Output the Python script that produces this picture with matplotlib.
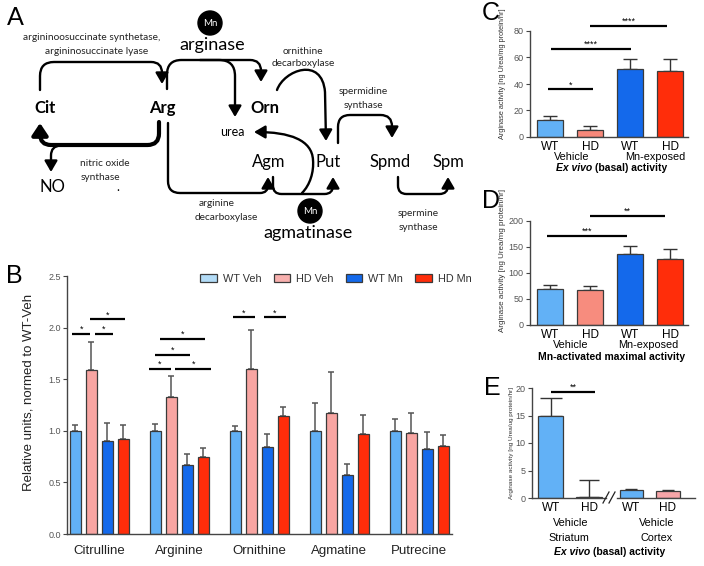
import numpy as np
import matplotlib
matplotlib.use('Agg')
import matplotlib.pyplot as plt
from matplotlib.path import Path
from matplotlib.patches import FancyArrowPatch, Circle, Patch

plt.rcParams['font.family'] = ['Liberation Sans', 'DejaVu Sans']

# ---------------- data: panel B ----------------
metabolites = ['Citrulline', 'Arginine', 'Ornithine', 'Agmatine', 'Putrecine']
groups_B = ['WT Veh', 'HD Veh', 'WT Mn', 'HD Mn']
wt_veh = [1.00, 1.00, 1.00, 1.00, 1.00]
wt_veh_err = [0.06, 0.07, 0.05, 0.27, 0.11]
hd_veh = [1.59, 1.33, 1.60, 1.17, 0.98]
hd_veh_err = [0.27, 0.20, 0.38, 0.40, 0.19]
wt_mn = [0.90, 0.67, 0.84, 0.57, 0.82]
wt_mn_err = [0.18, 0.11, 0.13, 0.11, 0.17]
hd_mn = [0.92, 0.75, 1.14, 0.97, 0.85]
hd_mn_err = [0.14, 0.08, 0.09, 0.18, 0.11]
yticks_B = [0.0, 0.5, 1.0, 1.5, 2.0, 2.5]
# significance bars B: (x start, x end, y, label)
sig_B = [(-0.341, -0.112, 1.936, '*'), (-0.058, 0.171, 1.936, '*'), (-0.112, 0.325, 2.08, '*'),
         (0.617, 0.900, 1.60, '*'), (0.946, 1.400, 1.60, '*'), (0.700, 1.129, 1.736, '*'),
         (0.754, 1.325, 1.89, '*'),
         (1.667, 1.942, 2.10, '*'), (2.054, 2.338, 2.10, '*')]

# ---------------- data: panel C ----------------
labels_CD = ['WT', 'HD', 'WT', 'HD']
c_vals = [13.0, 5.5, 51.5, 50.0]
c_err = [2.5, 2.8, 7.5, 8.5]
yticks_C = [0, 20, 40, 60, 80]
sig_C = [(-0.05, 1.075, 36, '*'), (0.008, 2.03, 66.7, '****'), (0.99, 2.925, 84, '****')]

# ---------------- data: panel D ----------------
d_vals = [69.5, 67.5, 137.5, 127.5]
d_err = [7.5, 7.5, 15.0, 19.5]
yticks_D = [0, 50, 100, 150, 200]
sig_D = [(-0.09, 1.91, 171.8, '***'), (0.99, 2.88, 209.6, '**')]

# ---------------- data: panel E ----------------
labels_E = ['WT', 'HD', 'WT', 'HD']
e_vals = [14.9, 0.25, 1.4, 1.2]
e_err = [3.3, 2.95, 0.3, 0.3]
e_pos = [0, 1, 2.08, 3.03]
yticks_E = [0, 5, 10, 15, 20]
sig_E = [(0.02, 1.15, 19.3, '**')]

# colours
C_WTV = '#62B1F6'
C_HDV = '#F8A5A2'
C_WTM = '#1469EB'
C_HDM = '#FF2D0A'
EDGE = '#3a3a3a'

W, H = 704, 566
fig = plt.figure(figsize=(W / 100, H / 100), dpi=100)


def ax_px(x0, y0, x1, y1):
    return fig.add_axes([x0 / W, 1 - y1 / H, (x1 - x0) / W, (y1 - y0) / H])


def style_ax(ax, yticks, ylim, tick_fs=6.5):
    for s in ['top', 'right']:
        ax.spines[s].set_visible(False)
    for s in ['left', 'bottom']:
        ax.spines[s].set_color('#444444')
        ax.spines[s].set_linewidth(1.0)
    ax.set_ylim(*ylim)
    ax.set_yticks(yticks)
    ax.tick_params(axis='y', length=3, width=0.8, color='#444444', labelsize=tick_fs,
                   labelcolor='#555555', pad=1.5)
    ax.tick_params(axis='x', length=0)
    ax.set_facecolor('none')


def sig(ax, items, fs=7):
    for x0, x1, y, lab in items:
        ax.plot([x0, x1], [y, y], color='k', lw=1.6, clip_on=False, solid_capstyle='butt')
        ax.text((x0 + x1) / 2, y, lab, ha='center', va='bottom', fontsize=fs, clip_on=False)


# ---------------- panel B ----------------
axB = ax_px(67, 276, 452, 534)
xg = np.arange(len(metabolites))
offs = [-0.3, -0.1, 0.1, 0.3]
series = [(wt_veh, wt_veh_err, C_WTV), (hd_veh, hd_veh_err, C_HDV),
          (wt_mn, wt_mn_err, C_WTM), (hd_mn, hd_mn_err, C_HDM)]
for (v, e, c), o in zip(series, offs):
    axB.bar(xg + o, v, width=0.133, color=c, edgecolor=EDGE, linewidth=0.9, zorder=2)
    axB.errorbar(xg + o, v, yerr=[np.zeros(len(v)), e], fmt='none', ecolor='#555555',
                 elinewidth=1.1, capsize=2.5, capthick=1.1, zorder=1)
style_ax(axB, yticks_B, (0, 2.5), tick_fs=6.5)
axB.set_yticklabels([f'{t:.1f}' for t in yticks_B])
axB.set_xlim(-0.404, 4.408)
axB.set_xticks(xg)
axB.set_xticklabels(metabolites, fontsize=9.5, color='#222222')
axB.tick_params(axis='x', pad=8)
axB.set_ylabel('Relative units, normed to WT-Veh', fontsize=9.5, color='#222222')
axB.yaxis.set_label_coords((35 - 67) / 385, 0.55)
sig(axB, sig_B, fs=6.5)
leg_cols = ['#B3DCF7', '#F8B0AE', C_WTM, C_HDM]
handles = [Patch(facecolor=c, edgecolor=EDGE, linewidth=0.9) for c in leg_cols]
fig.legend(handles, groups_B, loc='center', bbox_to_anchor=(336 / W, 1 - 279 / H), ncol=4,
           frameon=False, fontsize=7.8, handlelength=1.5, handleheight=0.8,
           columnspacing=1.1, handletextpad=0.6, labelcolor='#333333')

# ---------------- panel C ----------------
axC = ax_px(530, 31, 688, 137)
xc = np.arange(4)
cols_C = [C_WTV, '#F7887A', C_WTM, C_HDM]
axC.bar(xc, c_vals, width=0.65, color=cols_C, edgecolor=EDGE, linewidth=0.9, zorder=2)
axC.errorbar(xc, c_vals, yerr=[np.zeros(4), c_err], fmt='none', ecolor='#333333',
             elinewidth=1.0, capsize=5, capthick=1.0, zorder=1)
style_ax(axC, yticks_C, (0, 80))
axC.set_xlim(-0.508, 3.45)
axC.set_xticks(xc)
axC.set_xticklabels(labels_CD, fontsize=8.5)
axC.tick_params(axis='x', pad=3)
sig(axC, sig_C, fs=6.5)

# ---------------- panel D ----------------
axD = ax_px(530, 221, 688, 325)
cols_D = [C_WTV, '#F78C7E', C_WTM, C_HDM]
axD.bar(xc, d_vals, width=0.65, color=cols_D, edgecolor=EDGE, linewidth=0.9, zorder=2)
axD.errorbar(xc, d_vals, yerr=[np.zeros(4), d_err], fmt='none', ecolor='#333333',
             elinewidth=1.0, capsize=5, capthick=1.0, zorder=1)
style_ax(axD, yticks_D, (0, 200))
axD.set_xlim(-0.508, 3.45)
axD.set_xticks(xc)
axD.set_xticklabels(labels_CD, fontsize=8.5)
axD.tick_params(axis='x', pad=3)
sig(axD, sig_D, fs=6.5)

# ---------------- panel E ----------------
axE = ax_px(532, 388, 695, 498)
cols_E = [C_WTV, C_WTV, C_WTV, '#F7A5A8']
wid_E = [0.667, 0.667, 0.59, 0.60]
axE.bar(e_pos, e_vals, width=wid_E, color=cols_E, edgecolor=EDGE, linewidth=0.9, zorder=2)
for p, v, e, cs in zip(e_pos, e_vals, e_err, [8, 7.5, 4, 4]):
    axE.errorbar([p], [v], yerr=[[0], [e]], fmt='none', ecolor='#333333',
                 elinewidth=1.0, capsize=cs, capthick=1.0, zorder=1)
style_ax(axE, yticks_E, (0, 20))
axE.set_xlim(-0.48, 3.73)
axE.set_xticks(e_pos)
axE.set_xticklabels(labels_E, fontsize=8.5)
axE.tick_params(axis='x', pad=3)
axE.spines['bottom'].set_visible(False)
sig(axE, sig_E, fs=6.5)

# ---------------- overlay (panel A + free text) ----------------
ov = fig.add_axes([0, 0, 1, 1])
ov.set_xlim(0, W)
ov.set_ylim(H, 0)
ov.axis('off')

# E axis line with break
ov.plot([532, 606], [498, 498], color='#444444', lw=1.0)
ov.plot([617, 695], [498, 498], color='#444444', lw=1.0)
ov.plot([603, 609], [503, 492], color='#222222', lw=0.9)
ov.plot([609, 615], [503, 492], color='#222222', lw=0.9)

# panel letters
for lab, x, y, fam in [('A', 7, 6, 'Lato'), ('B', 6, 264, 'Liberation Sans'),
                       ('C', 482, 1, 'Liberation Sans'), ('D', 482, 189, 'Liberation Sans'),
                       ('E', 484, 376, 'Liberation Sans')]:
    ov.text(x, y, lab, fontsize=18, ha='left', va='top', family=fam)

# y labels for C, D, E
ov.text(502, 74, 'Arginase activity [ng Urea/mg protein/hr]', rotation=90, ha='center',
        va='center', fontsize=5.3, color='#333333')
ov.text(503, 261, 'Arginase activity [ng Urea/mg protein/hr]', rotation=90, ha='center',
        va='center', fontsize=5.8, color='#333333')
ov.text(512, 443, 'Arginase activity [ng Urea/ug protein/hr]', rotation=90, ha='center',
        va='center', fontsize=4.6, color='#333333')


def exvivo(x, y):
    ov.text(x + 37, y, 'Ex vivo', ha='right', va='center', fontsize=7.5, fontweight='bold',
            style='italic')
    ov.text(x + 40, y, '(basal) activity', ha='left', va='center', fontsize=7.5,
            fontweight='bold')


# C group labels
ov.text(572, 157, 'Vehicle', ha='center', va='center', fontsize=7.8)
ov.text(655, 157, 'Mn-exposed', ha='center', va='center', fontsize=7.8)
exvivo(555, 168)
# D group labels
ov.text(571, 345, 'Vehicle', ha='center', va='center', fontsize=7.8)
ov.text(648, 345, 'Mn-exposed', ha='center', va='center', fontsize=7.8)
ov.text(612, 357, 'Mn-activated maximal activity', ha='center', va='center', fontsize=7.5,
        fontweight='bold')
# E group labels
ov.text(571, 523, 'Vehicle', ha='center', va='center', fontsize=7.8)
ov.text(657, 523, 'Vehicle', ha='center', va='center', fontsize=7.8)
ov.text(569, 538, 'Striatum', ha='center', va='center', fontsize=7.8)
ov.text(657, 538, 'Cortex', ha='center', va='center', fontsize=7.8)
exvivo(553, 552)


# ---- panel A diagram ----
def rpath(pts, r):
    pts = [np.array(p, float) for p in pts]
    verts = [pts[0]]
    codes = [Path.MOVETO]
    for i in range(1, len(pts) - 1):
        p0, p1, p2 = pts[i - 1], pts[i], pts[i + 1]
        d0 = p0 - p1
        d2 = p2 - p1
        l0 = np.hypot(*d0)
        l2 = np.hypot(*d2)
        rr = min(r, l0 / 2, l2 / 2)
        verts += [p1 + d0 / l0 * rr, p1, p1 + d2 / l2 * rr]
        codes += [Path.LINETO, Path.CURVE3, Path.CURVE3]
    verts.append(pts[-1])
    codes.append(Path.LINETO)
    return Path(verts, codes)


def arrow(path, lw=1.7, hl=0.6, hw=0.35, ms=11):
    style = f'-|>,head_length={hl},head_width={hw}'
    ov.add_patch(FancyArrowPatch(path=path, arrowstyle=style, mutation_scale=ms, lw=lw,
                                 color='k', shrinkA=0, shrinkB=0, joinstyle='round'))


arrow(rpath([(40, 90), (40, 62), (162, 62), (162, 84)], 15))           # Cit -> Arg
arrow(rpath([(159, 122), (159, 145), (40, 145), (40, 123)], 12), lw=3.0, hl=0.6, hw=0.4, ms=12)
arrow(rpath([(70, 145), (51, 146), (51, 172)], 10), lw=1.7)            # -> NO
arrow(rpath([(167, 89), (167, 60), (261, 60), (261, 82)], 15))         # Arg -> Orn
arrow(rpath([(200, 60), (235, 60), (235, 117)], 16))                   # -> urea
arrow(rpath([(168, 123), (168, 193), (268, 193), (268, 177)], 12))     # Arg -> Agm
arrow(Path([(277, 90), (284, 70), (322, 56), (325, 92), (326, 141)],
           [Path.MOVETO, Path.CURVE4, Path.CURVE4, Path.CURVE4, Path.LINETO]))  # Orn -> Put
arrow(rpath([(273, 177), (273, 194), (333, 194), (333, 177)], 11))     # Agm -> Put
arrow(Path([(302, 193), (310, 185), (314, 172), (313, 160), (312, 140), (290, 132), (254, 132)],
           [Path.MOVETO, Path.CURVE4, Path.CURVE4, Path.CURVE4, Path.CURVE4, Path.CURVE4,
            Path.CURVE4]))                                             # -> urea
arrow(rpath([(338, 143), (338, 115), (392, 115), (392, 138)], 12))     # Put -> Spmd
arrow(rpath([(398, 177), (398, 194), (448, 194), (448, 177)], 12))     # Spmd -> Spm

for cx, cy in [(210, 23), (310, 211)]:
    ov.add_patch(Circle((cx, cy), 12, color='k'))
    ov.text(cx, cy, 'Mn', color='white', ha='center', va='center', fontsize=7, family='Lato')

AF = 'Lato'
ov.text(212, 45, 'arginase', ha='center', va='center', fontsize=13, family=AF)
ov.text(308, 233, 'agmatinase', ha='center', va='center', fontsize=13, family=AF)
for t, x, y in [('Cit', 45, 108), ('Arg', 162, 108), ('Orn', 265, 108)]:
    ov.text(x, y, t, ha='center', va='center', fontsize=12, family=AF, fontweight='bold')
for t, x, y in [('Agm', 269, 162), ('Put', 328, 162), ('Spmd', 390, 162), ('Spm', 448, 162),
                ('NO', 52, 187)]:
    ov.text(x, y, t, ha='center', va='center', fontsize=12, family=AF)
ov.text(232, 132, 'urea', ha='center', va='center', fontsize=9, family=AF)
ov.text(118, 187, '.', ha='center', va='center', fontsize=9, family=AF)
small = [('argininoosuccinate synthetase,', 92, 38), ('argininosuccinate lyase', 97, 52),
         ('ornithine', 303, 52), ('decarboxylase', 303, 64),
         ('spermidine', 363, 92), ('synthase', 363, 105),
         ('nitric oxide', 105, 164), ('synthase', 100, 177),
         ('arginine', 217, 204), ('decarboxylase', 226, 218),
         ('spermine', 418, 214), ('synthase', 418, 228)]
for t, x, y in small:
    ov.text(x, y, t, ha='center', va='center', fontsize=7.3, family=AF, color='#222222')

fig.savefig('out.png', dpi=100)
